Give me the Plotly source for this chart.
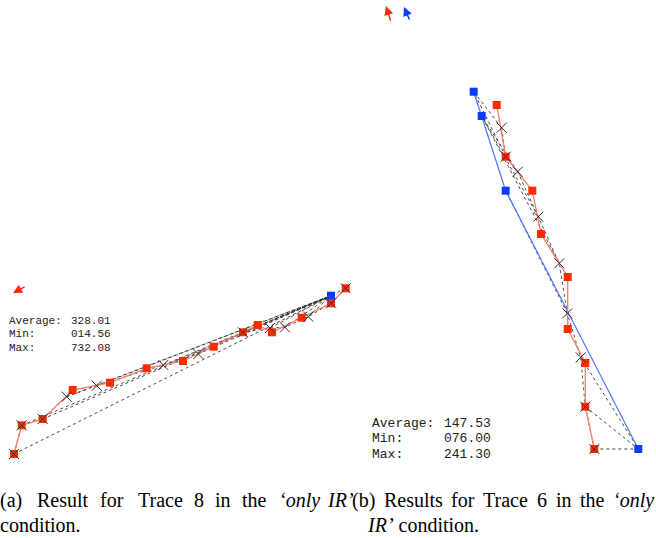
import plotly.graph_objects as go

# ---------- Panel (a): Trace 8 ----------
a_red_x = [14, 21.7, 42.7, 72.7, 110, 146.7, 183, 213.7, 243, 257.7, 272, 301.7, 331, 345.7]
a_red_y = [454, 425.3, 419, 390, 382.7, 368.3, 361, 346.7, 332.3, 325, 332.3, 317.7, 303.3, 288.3]
a_blue_x = [331]
a_blue_y = [295.7]
a_est_x = [14, 21.7, 42.7, 66.7, 96.7, 163.3, 198.3, 243, 270, 285, 308.3, 331, 345.7]
a_est_y = [454, 425.3, 419, 396.7, 385.7, 365, 354, 332.3, 328, 327.3, 316.7, 303.3, 288.3]
a_est_gt = [0, 0, 0, 0, 0, 0, 0, 0, 0, 0, 0, 0, 0]  # index into blue points
a_stats = [("Average:", "328.01"), ("Min:", "014.56"), ("Max:", "732.08")]

# ---------- Panel (b): Trace 6 ----------
b_red_x = [496.7, 505.7, 532.3, 541, 567.7, 567.7, 585.3, 585.3, 594.3]
b_red_y = [105, 156.7, 190.7, 234, 277, 329, 363, 406.7, 449]
b_blue_x = [473.7, 481.7, 505.7, 638.3]
b_blue_y = [91.7, 116, 190.7, 449]
b_est_x = [501.7, 505.7, 517.7, 538.3, 559.3, 567.3, 580.7, 585.3, 594.3]
b_est_y = [127.7, 156.7, 171.7, 216.7, 263.3, 313.3, 357.3, 406.7, 449]
b_est_gt = [0, 0, 1, 1, 1, 2, 3, 3, 3]
b_stats = [("Average:", "147.53"), ("Min:", "076.00"), ("Max:", "241.30")]

RED = "#ff2a00"
RED_LINE = "#ff7a66"
BLUE = "#0a3cff"
BLUE_LINE = "#4a78ff"

fig = go.Figure()


def add_panel(rx, ry, bx, by, ex, ey, gt, blue_line):
    # error lines from estimate to ground truth
    lx, ly = [], []
    for i in range(len(ex)):
        lx += [ex[i], bx[gt[i]], None]
        ly += [ey[i], by[gt[i]], None]
    fig.add_trace(go.Scatter(x=lx, y=ly, mode="lines",
                             line=dict(color="rgba(40,40,40,0.85)", width=1, dash="dot"),
                             hoverinfo="skip", showlegend=False))
    # estimated trajectory (dotted)
    fig.add_trace(go.Scatter(x=ex, y=ey, mode="lines",
                             line=dict(color="rgba(40,40,40,0.8)", width=1, dash="dot"),
                             hoverinfo="skip", showlegend=False))
    if blue_line:
        fig.add_trace(go.Scatter(x=bx, y=by, mode="lines",
                                 line=dict(color=BLUE_LINE, width=1.2),
                                 showlegend=False))
    fig.add_trace(go.Scatter(x=rx, y=ry, mode="lines+markers",
                             line=dict(color=RED_LINE, width=1.3),
                             marker=dict(symbol="square", size=8, color=RED,
                                         line=dict(width=0)),
                             showlegend=False))
    fig.add_trace(go.Scatter(x=bx, y=by, mode="markers",
                             marker=dict(symbol="square", size=8, color=BLUE,
                                         line=dict(width=0)),
                             showlegend=False))
    fig.add_trace(go.Scatter(x=ex, y=ey, mode="markers",
                             marker=dict(symbol="x-thin", size=10,
                                         line=dict(color="#333333", width=1)),
                             showlegend=False))


add_panel(a_red_x, a_red_y, a_blue_x, a_blue_y, a_est_x, a_est_y, a_est_gt, False)
add_panel(b_red_x, b_red_y, b_blue_x, b_blue_y, b_est_x, b_est_y, b_est_gt, True)

ann = []
# stats text
MONO = "Liberation Mono, Courier New, monospace"
for i, (lab, val) in enumerate(a_stats):
    y = 321 + i * 13.4
    ann.append(dict(x=7, y=y, text=lab, xanchor="left", yanchor="middle", showarrow=False,
                    font=dict(family=MONO, size=11, color="#222")))
    ann.append(dict(x=69, y=y, text=val, xanchor="left", yanchor="middle", showarrow=False,
                    font=dict(family=MONO, size=11, color="#222")))
for i, (lab, val) in enumerate(b_stats):
    y = 423.5 + i * 15.4
    ann.append(dict(x=370, y=y, text=lab, xanchor="left", yanchor="middle", showarrow=False,
                    font=dict(family=MONO, size=13, color="#222")))
    ann.append(dict(x=442, y=y, text=val, xanchor="left", yanchor="middle", showarrow=False,
                    font=dict(family=MONO, size=13, color="#222")))

# small direction arrows
arrows = [((13, 293), (26, 286), RED), ((386, 6), (391, 22), RED), ((404, 7), (410, 21), BLUE)]
for (hx, hy), (tx, ty), c in arrows:
    ann.append(dict(x=hx, y=hy, ax=tx, ay=ty, axref="x", ayref="y", xref="x", yref="y",
                    text="", showarrow=True, arrowhead=2, arrowsize=1.2, arrowwidth=1.5,
                    arrowcolor=c))

# captions
SERIF = "Liberation Serif, Times New Roman, serif"
CAP = 20
cap_a1 = [("(a)", 0), ("Result", 35), ("for", 98), ("Trace", 136), ("8", 192), ("in", 213),
          ("the", 240), ("<i>‘only</i>", 277), ("<i>IR’</i>", 325)]
cap_b1 = [("(b)", 350), ("Results", 381.8), ("for", 449.2), ("Trace", 481), ("6", 535),
          ("in", 553.5), ("the", 577.6), ("<i>‘only</i>", 610.5)]
for txt, x in cap_a1 + cap_b1:
    ann.append(dict(x=x, y=500, text=txt, xanchor="left", yanchor="middle", showarrow=False,
                    xshift=-2 if x == 0 else 0,
                    font=dict(family=SERIF, size=CAP, color="#000")))
ann.append(dict(x=0, y=525, text="condition.", xanchor="left", yanchor="middle", showarrow=False,
                xshift=-2, font=dict(family=SERIF, size=CAP, color="#000")))
ann.append(dict(x=365, y=525, text="<i>IR’</i> condition.", xanchor="left", yanchor="middle",
                showarrow=False, font=dict(family=SERIF, size=CAP, color="#000")))

for a in ann:
    a.setdefault("xref", "x")
    a.setdefault("yref", "y")

fig.update_layout(
    width=656, height=538,
    margin=dict(l=0, r=0, t=0, b=0),
    paper_bgcolor="white", plot_bgcolor="white",
    xaxis=dict(range=[0, 656], visible=False, fixedrange=True),
    yaxis=dict(range=[538, 0], visible=False, fixedrange=True),
    annotations=ann,
    showlegend=False,
)

fig.write_html("out.html")
